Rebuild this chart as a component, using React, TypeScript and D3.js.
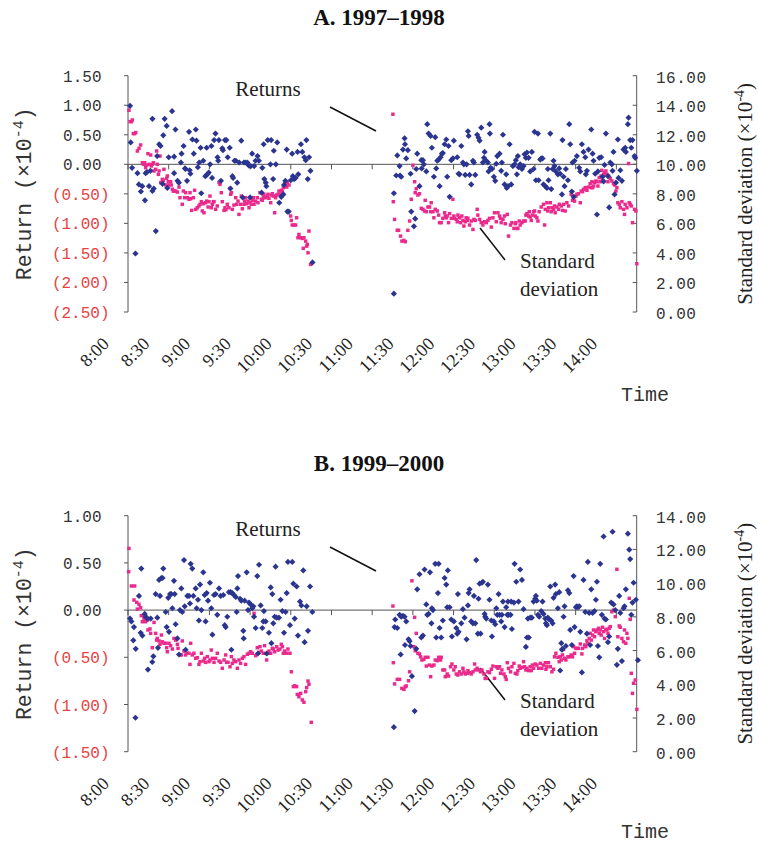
import React from 'react';
import * as d3 from 'd3';

// minutes after 8:00
const tickMinutes = [0, 30, 60, 90, 120, 150, 180, 210, 240, 270, 300, 330, 360];
const timeLabels = ['8:00', '8:30', '9:00', '9:30', '10:00', '10:30', '11:00', '11:30', '12:00', '12:30', '13:00', '13:30', '14:00'];

const topReturnTicks = [1.5, 1, 0.5, 0, -0.5, -1, -1.5, -2, -2.5];
const topStdTicks = [0, 2, 4, 6, 8, 10, 12, 14, 16];
const bottomReturnTicks = [1, 0.5, 0, -0.5, -1, -1.5];
const bottomStdTicks = [0, 2, 4, 6, 8, 10, 12, 14];

// Panel A 1997-1998 : [minute, return x1e-4]
const topReturns: [number, number][] = [
  [1.5,0.99],[2,0.37],[3,-0.06],[5.5,-1.51],[7,-0.15],[8,-0.34],[9.5,-0.46],[10.5,-0.37],[12.5,-0.61],[13,-0.15],[14,-0.13],[15.5,-0.37],[16.5,-0.11],[18,0.77],[18,-0.45],[19,-0.41],[20.5,-1.13],[21.5,0.14],[23,0.34],[24,0.31],[25.5,-0.33],[26,0.49],[27,0.77],[28.5,0.65],[29,-0.40],[30,0.12],[32.5,0.90],[34,0.13],[34,-0.15],[35,0.59],[36.5,-0.28],[37.5,-0.31],[39,0.03],[39.5,0.18],[41,0.31],[42,-0.07],[42.5,-0.08],[43.5,-0.28],[45,0.55],[45.5,-0.10],[46,-0.16],[47.5,0.42],[48.5,0.18],[50,0.59],[50.5,0.40],[51.5,-0.05],[52.5,0.03],[53.5,0.28],[54,-0.49],[55.5,0.06],[57,-0.20],[58,0.28],[58.5,-0.17],[59.5,-0.14],[60.5,0.00],[61.5,0.31],[62,-0.23],[63.5,0.41],[64.5,0.52],[66,0.12],[66.5,0.06],[67,0.41],[68.5,-0.28],[69.5,0.27],[70,0.24],[71.5,0.41],[72.5,0.41],[73.5,0.12],[75,0.28],[75.5,-0.41],[77,-0.20],[77.5,-0.23],[78.5,0.06],[79.5,0.06],[80.5,-0.31],[82,0.03],[83.5,0.40],[84.5,-0.56],[85.5,0.03],[86.5,0.03],[88,0.03],[89,-0.02],[90,-0.56],[90.5,-0.03],[91.5,0.18],[93,-0.03],[94,0.06],[95.5,0.14],[96.5,0.06],[98.5,-0.48],[99,-0.06],[100,0.34],[100.5,-0.25],[101.5,-0.31],[102,-0.37],[103,0.41],[105,0.00],[105.5,0.41],[107,-0.25],[107.5,0.23],[109,0.00],[110,0.37],[111.5,-0.65],[113,-0.55],[114.5,-0.51],[115,-0.35],[116,-0.28],[117,0.25],[117.5,-0.80],[118.5,-0.80],[120,-0.27],[121,0.18],[121.5,-0.20],[122.5,-0.25],[123.5,-0.23],[125,0.21],[125.5,-0.17],[127.5,0.34],[128.5,0.21],[130,0.12],[131,0.07],[131.5,0.41],[132.5,-0.25],[133.5,0.12],[134.5,-0.11],[136,-1.66],
  [196,-0.49],[196,-2.19],[198.5,0.15],[197.7,-0.19],[200.2,-0.03],[200.5,-0.19],[201.4,-0.21],[202.7,0.25],[203.9,0.44],[204.2,0.34],[205.1,0.10],[206.3,0.24],[208.3,-0.16],[208.8,-0.80],[210.8,-1.05],[211.7,-0.92],[212.5,-0.08],[213.2,0.18],[214.9,-0.37],[216.2,0.07],[216.5,-0.07],[217.4,0.07],[218.1,0.00],[219.9,-0.12],[220.6,0.68],[221.6,0.52],[223.1,0.48],[224,0.28],[225.5,-0.21],[226.5,0.46],[227.2,-0.07],[228,0.06],[229,0.08],[229.7,-0.37],[230.4,0.12],[231.4,0.18],[232.1,0.19],[233.4,0.34],[234.6,0.42],[235.3,-0.21],[236.3,0.31],[237.1,-0.55],[238.3,0.07],[239.5,0.10],[240.2,0.40],[242.7,0.12],[243.7,-0.16],[244.4,-0.17],[245.7,0.31],[246.9,0.03],[247.6,0.00],[248.6,-0.18],[249.6,0.00],[250.6,0.56],[251.1,0.48],[251.8,-0.18],[253,-0.34],[254.3,0.06],[255,0.03],[256,-0.18],[257.4,0.50],[258.4,0.45],[259.2,0.40],[260.4,0.62],[261.6,0.03],[262.4,0.11],[262.9,0.21],[264.1,0.06],[265.3,0.03],[265.8,-0.12],[266.5,0.68],[266.8,0.52],[267.3,-0.06],[268.3,-0.08],[269.7,-0.21],[270.7,-0.28],[271.5,0.01],[272.2,0.14],[273.9,0.18],[275.1,-0.11],[275.6,0.03],[276.4,0.50],[277.6,-0.34],[278.8,-0.17],[279.2,-0.40],[280.1,-0.37],[281.3,0.34],[282.5,-0.34],[283.7,-0.03],[285,0.00],
  [285.9,0.07],[286.7,-0.17],[287.4,0.14],[287.9,-0.05],[289.1,0.00],[290.4,-0.08],[291.6,-0.03],[292.3,0.17],[293.3,0.11],[294.1,0.20],[295.3,0.11],[296.5,-0.12],[297.7,0.21],[299,-0.08],[299.7,0.55],[300.7,-0.27],[302.2,0.52],[302.7,-0.27],[303.9,0.08],[304.6,0.10],[305.6,0.10],[306.3,-0.34],[307.6,-0.37],[308.8,-0.40],[309.5,-0.08],[310,-0.27],[311.3,0.52],[312,-0.42],[313,-0.08],[313.7,0.06],[314.4,-0.03],[315.4,-0.12],[316.9,-0.17],[317.9,-0.07],[318.6,-0.16],[319.9,-0.51],[320.3,0.41],[321.1,-0.21],[321.8,-0.37],[322.8,-0.08],[324.3,-0.27],[325.3,0.68],[326,0.34],[327.2,-0.46],[327.7,0.03],[328.5,-0.55],[329.2,0.06],[330.9,0.14],[332.6,-0.06],[333.4,-0.12],[334.6,0.34],[335.8,0.21],[337.1,0.12],[337.5,-0.17],[338.3,-0.11],[339.5,0.25],[341.5,0.59],[342.5,0.18],[343.2,0.06],[344.4,-0.16],[345.7,-0.85],[346.4,-0.12],[347.4,0.11],[348.8,0.12],[349.8,-0.21],[350.6,-0.29],[351.3,-0.01],[352.3,0.52],[353.8,-0.20],[354.7,-0.73],[355.5,0.03],[356.7,0.00],[357.2,-0.11],[357.9,0.21],[358.7,-0.51],[359.7,-0.31],[361.1,0.42],[361.6,-0.23],[362.9,-0.10],[364.1,-0.28],[365.3,0.25],[366.5,0.28],[367,0.21],[368.5,0.68],[369,0.79],[370.2,0.41],[371,0.28],[371.9,0.41],[373.4,0.14],[373.9,0.11],[375.1,-0.11]
];

// Panel A : [minute, standard deviation x1e-4]
const topStd: [number, number][] = [
  [0.7,13.66],[1.5,12.89],[2.5,12.89],[3.2,13.0],[3.9,12.08],[4.9,12.08],[5.7,12.15],[6.9,10.9],[8.1,11.08],[9.3,11.31],[10.6,10.11],[11.3,10.0],[12.3,10.11],[13,9.77],[13.8,9.95],[14.7,10.72],[15.5,10.0],[16.7,10.63],[17.2,9.89],[17.9,10.0],[18.7,10.11],[19.2,9.55],[20.4,9.66],[21.1,10.9],[21.6,10.0],[22.4,9.32],[22.9,9.55],[23.6,10.56],[24.1,8.76],[25.3,8.98],[26,8.92],[26.5,9.66],[27.8,8.60],[28.5,9.05],[29,9.21],[29.7,8.82],[30.2,8.60],[31.4,8.82],[31.9,8.60],[32.7,8.31],[33.4,8.19],[33.9,8.19],[35.1,8.19],[36.4,8.12],[37.6,8.46],[38.3,7.74],[40,7.29],[40.8,8.19],[41.8,7.74],[42.5,8.08],[43.7,7.74],[45,7.63],[45.7,8.08],[46.2,7.67],[46.9,6.88],[48.2,7.74],[49.1,8.24],[49.9,6.95],[51.1,7.06],[52.3,7.18],[53.1,7.29],[54.1,7.47],[54.8,6.84],[55.5,7.33],[56,6.72],[57.2,7.40],[58,7.51],[59,7.11],[59.7,7.47],[60.4,7.85],[61.4,7.06],[62.2,7.29],[62.9,7.47],[63.4,7.47],[64.6,6.95],[65.8,7.18],[67.1,8.76],[67.8,8.64],[68.8,8.08],[69.5,7.47],[70.8,6.88],[71.5,7.06],[72.2,6.93],[73.2,7.29],[74.4,7.06],[75.2,8.37],[75.7,7.97],[76.2,8.08],[76.9,6.95],[78.1,7.24],[79.4,7.74],[80.1,7.29],[81.1,7.51],[81.8,6.61],[83,7.29],[83.5,7.85],[84.3,6.99],[85.5,7.29],[86,7.51],[86.7,7.74],[87.5,7.33],[88.5,7.51],[89.2,7.06],[89.9,7.40],[90.9,7.29],[91.6,7.56],[92.4,7.74],[92.9,7.29],[94.1,7.51],[95.3,7.74],[95.8,7.40],[97.3,8.08],[98.3,7.63],[99,7.56],[99.8,7.74],[100.2,7.97],[101.5,7.74],[102.7,7.85],[103.2,7.97],[103.9,7.70],[105.2,7.40],[105.7,7.92],[106.4,8.01],[107.1,7.85],[108.1,6.72],[108.8,7.74],[109.6,7.92],[110.6,7.97],[111.3,8.19],[112,7.97],[113,8.24],[113.8,8.15],[114.5,8.42],[115.5,8.69],[116.2,8.64],[117,8.46],[117.4,8.76],[118.7,8.60],[119.9,6.50],[120.4,6.20],[121.1,5.89],[122.4,5.89],[123.6,5.89],[124.3,6.38],[125.3,5.03],[126,5.25],[127.3,5.03],[128.5,4.98],[129.2,4.31],[129.7,5.03],[131,4.80],[131.7,4.46],[132.2,4.58],[132.7,4.01],[133.4,5.48],[134.6,3.22],
  [195.3,13.39],[195.6,7.47],[196.5,6.27],[198.5,5.53],[199.5,5.53],[200.9,5.14],[201.9,4.80],[203.4,4.85],[204.4,4.76],[206.3,5.53],[207.6,6.16],[208.8,7.63],[210,9.93],[211.3,8.82],[211.7,8.08],[212.5,8.35],[213.7,7.92],[214.9,8.01],[216.2,7.02],[217.4,6.95],[218.6,6.84],[219.1,7.56],[219.9,6.79],[221.1,7.11],[222.3,7.11],[223.1,6.79],[223.5,7.40],[224.8,6.79],[225.5,6.38],[226.5,6.95],[228,6.84],[229,6.56],[229.7,6.05],[230.9,6.05],[232.1,6.34],[233.4,6.72],[233.9,6.50],[234.6,6.38],[235.3,6.50],[236.3,6.05],[237.1,6.66],[238.3,6.34],[239.5,7.63],[240.2,6.50],[240.7,6.34],[242,6.27],[242.7,6.11],[243.2,6.56],[244.4,6.38],[245.2,6.05],[246.1,6.50],[246.9,6.20],[247.6,5.82],[248.6,6.11],[249.3,6.38],[250.1,6.20],[250.6,6.34],[251.8,5.89],[253,6.16],[254.3,5.59],[255,6.27],[256,6.20],[257.4,6.95],[257.9,6.56],[259.2,6.27],[260.4,6.05],[261.6,5.89],[262.9,6.11],[264.1,6.05],[265.3,6.20],[266.5,6.34],[267.8,5.75],[269,6.38],[270.2,6.72],[271.5,6.11],[272.7,6.72],[273.9,6.50],[274.6,6.34],[275.1,6.05],[276.4,6.27],[277.6,6.50],[278.1,5.98],[279.6,6.61],[280.5,5.14],[282,5.89],[283,6.05],[284.5,5.66],[285.5,5.98],
  [285.9,6.05],[286.7,5.66],[287.4,5.66],[288.4,6.16],[289.1,5.89],[290.4,6.05],[291.6,6.16],[292.8,6.16],[293.3,6.56],[294.1,6.66],[295.3,6.50],[295.8,6.79],[296.5,6.43],[297.3,6.20],[298.2,6.56],[299,6.79],[299.7,6.84],[300.2,6.50],[301.4,6.38],[302.2,6.16],[303.1,6.79],[304.6,7.11],[306.3,7.29],[307.1,5.89],[307.6,6.95],[308.8,7.40],[309.5,6.84],[310,7.06],[311.3,7.40],[312,6.79],[312.5,7.06],[313.7,6.95],[314.4,7.18],[314.9,6.72],[316.2,7.11],[317.4,6.95],[317.9,7.29],[319.4,7.18],[320.3,6.88],[321.1,7.29],[322.3,6.84],[323.5,7.40],[324.8,7.18],[326.7,7.97],[327.7,7.56],[328.5,7.74],[329.2,7.51],[330.2,7.85],[330.9,7.97],[332.1,8.01],[333.4,7.40],[334.1,8.19],[335.1,8.15],[335.8,8.31],[337.1,8.42],[338.3,8.24],[339.5,8.46],[340.7,8.69],[341.5,8.42],[342,8.82],[342.5,8.42],[343.2,8.53],[343.9,8.76],[344.9,8.87],[345.7,8.82],[346.4,8.53],[347.4,9.10],[348.1,8.82],[348.8,9.21],[349.3,9.59],[349.8,8.92],[350.6,9.32],[351.3,9.44],[352.3,9.55],[353,9.32],[353.8,8.82],[354.3,9.21],[355.5,9.05],[356.7,8.87],[357.9,8.69],[358.7,8.60],[359.7,8.19],[360.4,8.42],[361.1,7.40],[362.1,7.29],[362.9,7.06],[364.1,7.47],[365.3,6.95],[366,6.61],[366.5,7.29],[367.8,7.06],[369,10.05],[369.5,7.40],[370.2,7.29],[371,7.18],[371.9,6.05],[373.4,6.95],[374.4,6.84],[375.1,3.27]
];

// Panel B 1999-2000 : [minute, return x1e-4]
const bottomReturns: [number, number][] = [
  [1.5,-0.09],[2.5,-0.12],[3.9,-0.32],[4.4,-0.18],[5.7,-0.41],[5.5,-1.14],[8.1,0.15],[9.3,-0.24],[9.8,0.44],[10.6,-0.27],[12.3,-0.04],[13,-0.07],[14.3,-0.09],[14.7,-0.63],[16.7,-0.09],[17.9,-0.55],[18.7,-0.49],[20.4,0.17],[21.6,-0.08],[22.1,-0.40],[22.9,0.32],[23.6,0.15],[24.6,0.34],[26,0.44],[25.5,0.34],[27.8,-0.02],[28.5,-0.18],[29.7,0.13],[30.2,-0.23],[31,0.17],[31.9,0.17],[32.7,0.02],[33.9,0.31],[34.4,0.17],[35.1,-0.15],[36.4,-0.30],[37.6,-0.47],[38.3,0.00],[39.3,0.23],[40,-0.02],[41.3,0.53],[41.8,0.04],[42.5,-0.42],[43.7,0.15],[45,0.15],[45.7,0.07],[46.2,0.49],[47.4,0.44],[48.2,0.15],[49.9,0.23],[50.6,0.02],[51.6,0.11],[52.3,-0.11],[53.1,0.27],[54.1,0.00],[55.5,0.40],[56.5,0.16],[57.2,-0.12],[58,0.18],[59,0.10],[60.4,0.29],[61.4,0.02],[62.2,-0.26],[63.4,0.16],[64.6,0.17],[65.8,-0.05],[67.1,0.23],[68.3,0.15],[70.3,0.16],[71.3,-0.16],[72,-0.18],[73.2,-0.07],[74.4,0.19],[75.7,0.19],[76.2,-0.42],[76.9,0.18],[78.1,0.16],[79.4,0.14],[80.1,-0.02],[80.6,0.23],[81.1,0.36],[82.6,0.12],[83.5,0.10],[85,-0.22],[85.3,-0.30],[86,0.10],[87.5,0.40],[88.5,0.00],[89.2,0.08],[90.4,0.06],[91.6,0.02],[92.4,0.04],[92.9,-0.07],[94.1,-0.19],[95.3,0.36],[95.8,-0.46],[96.6,0.48],[97.8,0.05],[99,-0.19],[99.8,-0.12],[100.2,-0.01],[101.5,-0.12],[102.2,-0.46],[103.9,-0.24],[105.2,0.24],[105.7,-0.35],[106.4,0.17],[107.1,-0.14],[108.1,-0.07],[108.8,0.46],[109.6,-0.08],[111.3,-0.08],[112.5,0.11],[113.8,-0.01],[115,-0.24],[116.2,-0.02],[117,0.18],[117.9,0.51],[119.4,-0.16],[121.1,0.51],[121.9,0.28],[122.9,-0.09],[124.3,0.25],[125.3,-0.27],[126.8,0.09],[127.8,0.05],[129.2,0.42],[130.2,-0.34],[131.7,0.04],[132.7,-0.22],[134.2,0.25],[135.9,-0.02],
  [196,-1.24],[196.5,-0.18],[197,-0.10],[198.5,-0.19],[200.2,-0.05],[201.4,-0.07],[201,-0.47],[202.7,-0.06],[203.9,-0.07],[205.1,-0.12],[204.2,-0.37],[206.8,-0.31],[207.6,-0.33],[208.3,-0.38],[209.3,-0.70],[211.3,-1.07],[212.5,-0.41],[213.2,0.22],[214.9,0.38],[216.2,-0.29],[217.4,-0.27],[218.6,0.43],[219.9,0.06],[220.6,-0.05],[221.6,-0.04],[222.6,0.40],[224,0.02],[224.8,0.00],[223.7,-0.14],[226.5,0.49],[227.2,-0.29],[228.5,0.18],[229,0.49],[229.7,-0.19],[230.9,-0.29],[232.1,-0.11],[233.4,0.34],[234.6,0.27],[235.3,0.03],[235.8,0.42],[237.1,0.03],[238.3,-0.10],[238.8,-0.28],[240.2,-0.12],[242,-0.19],[242.7,-0.25],[243.2,0.17],[243.7,-0.23],[245.7,-0.14],[246.9,0.01],[248.1,-0.08],[249.6,-0.31],[250.6,0.05],[251.1,0.18],[251.8,0.22],[253,-0.12],[254.3,-0.14],[255,0.15],[256,-0.14],[256.7,0.53],[257.9,-0.25],[258.4,0.12],[259.2,0.28],[259.9,-0.25],[260.9,0.29],[261.6,0.30],[262.9,-0.04],[263.3,-0.07],[264.1,-0.09],[265.3,0.27],[266.5,0.11],[267.8,-0.11],[268.3,-0.28],[269.7,-0.12],[270.7,-0.15],[271.5,0.02],[272.2,-0.05],[273.2,0.17],[273.9,-0.05],[275.1,-0.12],[275.6,-0.05],[276.4,0.09],[277.6,-0.18],[278.8,0.03],[279.6,-0.05],[280.1,0.09],[280.5,-0.05],[282,-0.05],[282.5,0.09],[283,-0.20],[284.5,0.08],[285,0.49],[286.2,0.30],
  [287.9,0.09],[289.1,0.43],[290.4,0.32],[291.6,0.01],[293.3,-0.39],[294.1,-0.29],[294.8,-0.09],[295.5,-0.29],[296.5,-0.08],[297.7,-0.08],[299,0.09],[300.2,0.12],[300.7,0.15],[301.4,0.10],[302.2,-0.05],[303.1,-0.07],[304.6,-0.01],[305.6,0.09],[306.3,-0.04],[307.6,-0.09],[308.1,-0.14],[308.8,-0.16],[309.5,-0.08],[310.5,-0.10],[311.3,0.25],[312,-0.11],[313,-0.14],[313.7,0.13],[314.9,0.27],[315.4,0.17],[316.9,0.02],[317.9,0.19],[318.6,-0.64],[319.4,-0.35],[319.9,-0.42],[320.3,-0.41],[321.1,-0.07],[321.8,0.04],[322.8,-0.38],[324.3,0.21],[325.3,0.18],[326,-0.21],[327.2,-0.37],[328.5,0.36],[329.2,-0.18],[330.2,0.03],[330.9,0.04],[331.6,0.03],[332.6,0.04],[333.4,-0.23],[334.6,-0.66],[335.8,0.32],[337.1,-0.02],[338.3,-0.25],[339,0.51],[340,-0.03],[340.7,-0.37],[341.5,0.22],[342.5,-0.03],[343.9,-0.01],[344.9,0.11],[345.7,0.30],[346.4,-0.38],[347.4,-0.50],[348.1,0.49],[349.3,-0.05],[350.6,0.78],[351.3,-0.09],[352.3,-0.10],[353.8,-0.34],[354.7,-0.28],[356.2,0.08],[357.2,0.83],[357.9,0.06],[359.2,0.00],[360.4,-0.58],[361.1,-0.41],[362.1,0.15],[362.9,-0.03],[364.1,-0.54],[365.3,0.02],[366,0.04],[367,0.22],[368.5,0.81],[369.5,0.64],[370.2,0.54],[371,-0.05],[371.9,0.08],[372.7,0.29],[374.4,0.11],[375.9,-0.53]
];

// Panel B : [minute, standard deviation x1e-4]
const bottomStd: [number, number][] = [
  [0.7,12.06],[0.5,10.68],[2.5,9.83],[4.9,9.83],[4.4,9.00],[6.4,8.86],[6.9,8.46],[8.1,8.74],[9.3,8.54],[9.8,8.07],[10.6,7.71],[11.8,7.91],[13,7.71],[14.3,7.81],[14.7,7.22],[16.2,7.28],[16.7,7.02],[17.9,6.17],[19.2,7.67],[20.4,7.02],[21.1,6.62],[21.6,6.72],[22.9,6.57],[23.6,6.37],[24.6,6.92],[25.3,6.52],[26.5,6.43],[27.8,6.43],[28.5,6.17],[29,5.93],[30.2,6.43],[31.4,6.29],[32.7,6.09],[33.9,6.72],[35.1,6.62],[36.4,6.37],[36.9,6.13],[38.3,5.74],[39.3,5.74],[40,6.57],[41.3,5.97],[42.5,5.74],[43.7,5.84],[45,5.84],[45.7,5.18],[46.2,6.43],[47.4,5.74],[48.6,5.84],[49.9,5.54],[51.1,5.58],[52.3,5.18],[53.1,5.34],[54.1,5.84],[55.5,5.38],[56.5,5.54],[57.2,5.30],[58.5,5.64],[59.7,5.34],[60.4,5.44],[61.4,6.03],[62.2,5.54],[63.4,5.30],[64.6,5.54],[65.8,5.84],[67.1,5.38],[68.3,5.30],[69.5,4.95],[70.8,5.44],[72,5.74],[72.7,5.30],[73.7,5.30],[75.2,5.04],[76.2,5.64],[76.9,5.24],[78.1,5.44],[79.4,5.34],[80.6,4.95],[81.8,5.44],[83,5.24],[84.3,5.54],[85.5,5.64],[86.7,5.18],[88,5.78],[89.2,5.84],[90.4,5.93],[91.6,5.84],[92.9,8.21],[94.1,5.70],[95.3,6.17],[96.6,5.89],[97.3,6.23],[98.3,5.97],[99.8,5.84],[100.7,6.29],[102.2,5.44],[103.2,5.84],[103.9,5.97],[105.2,5.84],[106.4,6.13],[107.1,6.09],[108.1,5.93],[109.6,6.23],[110.6,6.03],[112,6.09],[113,6.37],[113.8,6.23],[114.5,5.84],[115.5,5.97],[117,5.84],[117.9,6.09],[119.4,5.84],[120.4,4.74],[121.9,3.86],[122.9,3.91],[124.3,3.86],[124.8,3.40],[126,3.26],[127.3,3.46],[128.5,3.07],[129.7,2.93],[131,3.56],[131.7,3.80],[132.7,4.19],[133.4,4.00],[135.1,1.74],
  [195.3,8.64],[195.6,5.28],[196.5,4.02],[198.5,4.29],[200.2,4.29],[201.9,3.76],[203.4,3.70],[204.4,3.86],[205.1,3.90],[206.8,4.21],[207.6,4.74],[209.3,10.14],[210.8,6.23],[211.3,7.97],[211.7,5.99],[212.5,7.02],[213.7,5.84],[214.9,5.80],[215.7,5.63],[216.7,5.44],[218.1,5.48],[219.1,5.60],[219.9,5.08],[221.1,5.60],[222.3,5.14],[223.1,4.45],[224,5.08],[225.5,5.14],[226.5,5.44],[228,5.40],[229,5.60],[230.4,5.44],[230.9,5.60],[232.1,4.85],[233.4,4.85],[233.9,4.45],[235.3,4.61],[236.3,4.49],[237.8,5.04],[238.8,5.20],[240.2,4.85],[241.2,5.04],[242,4.61],[243.2,4.55],[244.4,4.74],[245.7,4.61],[246.9,4.95],[247.6,4.74],[248.6,4.61],[250.1,4.65],[250.6,4.81],[251.8,4.69],[253,4.61],[254.3,4.74],[255.5,5.20],[256,4.85],[257.4,4.95],[258.4,4.85],[259.9,4.74],[260.9,4.85],[262.4,4.61],[263.3,4.35],[264.1,4.35],[265.3,4.74],[266.5,4.69],[267.8,4.89],[269,5.08],[270.2,4.35],[271.5,5.04],[272.7,4.95],[273.9,5.04],[274.6,4.65],[275.6,4.85],[277.1,4.61],[278.1,4.45],[278.8,4.29],[279.6,5.28],[280.5,4.95],[282,4.74],[283,5.04],[284.5,5.24],[285.5,4.65],
  [286.7,4.61],[287.4,4.81],[288.4,5.08],[289.1,4.95],[290.4,5.00],[291.6,5.34],[292.3,5.04],[293.3,4.85],[294.1,4.95],[295.3,4.81],[296.5,5.04],[297.3,4.81],[298.2,5.14],[299,4.95],[300.2,5.20],[301.4,5.14],[302.7,4.95],[303.9,5.24],[305.1,4.95],[306.3,5.14],[307.6,5.28],[308.1,4.89],[308.8,5.04],[310,5.28],[311.3,5.04],[312.5,4.74],[313.7,4.89],[314.4,5.63],[315.4,5.84],[316.9,5.60],[317.9,5.34],[318.6,5.63],[319.4,5.44],[320.3,5.74],[321.1,6.07],[321.8,5.54],[322.8,5.44],[324.3,5.63],[325.3,5.63],[326.7,5.74],[327.7,5.63],[328.5,6.23],[329.2,5.84],[330.2,6.13],[330.9,6.13],[332.1,6.13],[333.4,6.39],[334.6,5.80],[335.1,6.13],[336.6,6.33],[337.5,6.23],[338.3,6.58],[339,6.43],[340,6.72],[340.7,7.02],[341.5,6.62],[342.5,6.92],[343.2,7.22],[343.9,6.82],[344.9,7.12],[345.7,7.22],[346.9,7.32],[347.4,7.02],[348.1,7.22],[348.8,6.92],[349.8,7.38],[350.6,7.12],[351.3,6.72],[352.3,7.26],[353,7.22],[353.8,7.02],[354.7,7.32],[355.5,7.42],[356.7,8.30],[357.9,8.40],[359.2,8.01],[360.4,10.82],[361.1,6.82],[362.1,7.46],[362.9,7.38],[364.1,6.72],[365.3,6.52],[366,7.22],[367,6.43],[367.8,7.02],[368.5,6.72],[369.5,9.10],[370.2,7.85],[371,4.65],[371.9,3.46],[372.7,4.06],[373.9,4.25],[375.1,2.51]
];

const BLUE = '#2B3590';
const PINK = '#EA2A8C';
const AXIS = '#555';
const RED = '#E8423F';
const MONO = '"Liberation Mono", monospace';
const SERIF = '"Liberation Serif", "Times New Roman", serif';

const X0 = 128;
const X1 = 636.7;

type PanelProps = {
  title: string;
  titleY: number;
  plotTop: number;
  plotBottom: number;
  retDomain: [number, number];
  stdDomain: [number, number];
  retTicks: number[];
  stdTicks: number[];
  returns: [number, number][];
  std: [number, number][];
  timeY: number;
};

function fmt(v: number) {
  return v < 0 ? `(${(-v).toFixed(2)})` : v.toFixed(2);
}

function Panel(p: PanelProps) {
  const x = d3.scaleLinear().domain([0, 375]).range([X0, X1]);
  const yR = d3.scaleLinear().domain(p.retDomain).range([p.plotBottom, p.plotTop]);
  const yS = d3.scaleLinear().domain(p.stdDomain).range([p.plotBottom, p.plotTop]);
  const zeroY = yR(0);
  const diamond = d3.symbol(d3.symbolSquare, 19)() as string;
  const sq = d3.symbol(d3.symbolSquare, 12)() as string;
  const off = p.plotTop - 75.7;
  return (
    <g>
      <text x={379} y={p.titleY} textAnchor="middle" fontFamily={SERIF} fontWeight="bold" fontSize={23} fill="#111">{p.title}</text>
      {/* left axis */}
      <line x1={X0} x2={X0} y1={p.plotTop} y2={p.plotBottom} stroke={AXIS} strokeWidth={1} />
      {p.retTicks.map((t) => (
        <g key={'l' + t}>
          <line x1={X0 - 4} x2={X0} y1={yR(t)} y2={yR(t)} stroke={AXIS} />
          <text x={t < 0 ? 109.5 : 101.5} y={yR(t) + 6} textAnchor="end" fontFamily={MONO} fontSize={16} fill={t < 0 ? RED : '#333'}>{fmt(t)}</text>
        </g>
      ))}
      {/* right axis */}
      <line x1={X1} x2={X1} y1={p.plotTop} y2={p.plotBottom} stroke={AXIS} strokeWidth={1} />
      {p.stdTicks.map((t) => (
        <g key={'r' + t}>
          <line x1={X1 - 4} x2={X1} y1={yS(t)} y2={yS(t)} stroke={AXIS} />
          <text x={656} y={yS(t) + 7} textAnchor="start" fontFamily={MONO} fontSize={16} letterSpacing={0.5} fill="#333">{t.toFixed(2)}</text>
        </g>
      ))}
      {/* x axis at zero return */}
      <line x1={X0} x2={X1} y1={zeroY} y2={zeroY} stroke={AXIS} strokeWidth={1} />
      {tickMinutes.map((m, i) => (
        <g key={'x' + m}>
          <line x1={x(m)} x2={x(m)} y1={zeroY} y2={zeroY + 5} stroke={AXIS} />
          <text transform={`translate(${x(m) - 18},${p.plotBottom + 33}) rotate(-45)`} textAnchor="end" fontFamily={SERIF} fontSize={18} fill="#222">{timeLabels[i]}</text>
        </g>
      ))}
      {/* axis titles */}
      <text transform={`translate(31,${(p.plotTop + p.plotBottom) / 2}) rotate(-90)`} textAnchor="middle" fontFamily={MONO} fontSize={21.5} fill="#333">
        Return (×10<tspan dy={-8} fontSize={15}>-4</tspan><tspan dy={8}>)</tspan>
      </text>
      <text transform={`translate(752,${(p.plotTop + p.plotBottom) / 2}) rotate(-90)`} textAnchor="middle" fontFamily={SERIF} fontSize={21} fill="#222">
        Standard deviation (×10<tspan dy={-8} fontSize={14}>-4</tspan><tspan dy={8}>)</tspan>
      </text>
      <text x={645} y={p.timeY} textAnchor="middle" fontFamily={MONO} fontSize={20} fill="#333">Time</text>
      {/* annotations */}
      <text x={268} y={96 + off} textAnchor="middle" fontFamily={SERIF} fontSize={21} fill="#222">Returns</text>
      <line x1={330} y1={107 + off} x2={376} y2={131 + off} stroke="#111" strokeWidth={1.5} />
      <text x={520} y={268 + off} fontFamily={SERIF} fontSize={21} fill="#222">Standard</text>
      <text x={520} y={296 + off} fontFamily={SERIF} fontSize={21} fill="#222">deviation</text>
      <line x1={480} y1={228 + off} x2={505} y2={260 + off} stroke="#111" strokeWidth={1.5} />
      {/* series */}
      {p.std.map((d, i) => (
        <path key={'s' + i} d={sq} transform={`translate(${x(d[0])},${yS(d[1])})`} fill={PINK} />
      ))}
      {p.returns.map((d, i) => (
        <path key={'r' + i} d={diamond} transform={`translate(${x(d[0])},${yR(d[1])}) rotate(45)`} fill={BLUE} />
      ))}
    </g>
  );
}

export default function App() {
  return (
    <svg width={758} height={846} style={{ position: 'absolute', left: 0, top: 0, background: '#fff' }}>
      <rect width={758} height={846} fill="#fff" />
      <Panel title="A. 1997–1998" titleY={25} plotTop={75.7} plotBottom={312} retDomain={[-2.5, 1.5]} stdDomain={[0, 16]} retTicks={topReturnTicks} stdTicks={topStdTicks} returns={topReturns} std={topStd} timeY={401} />
      <Panel title="B. 1999–2000" titleY={471} plotTop={515.7} plotBottom={751.7} retDomain={[-1.5, 1]} stdDomain={[0, 14]} retTicks={bottomReturnTicks} stdTicks={bottomStdTicks} returns={bottomReturns} std={bottomStd} timeY={838} />
    </svg>
  );
}
